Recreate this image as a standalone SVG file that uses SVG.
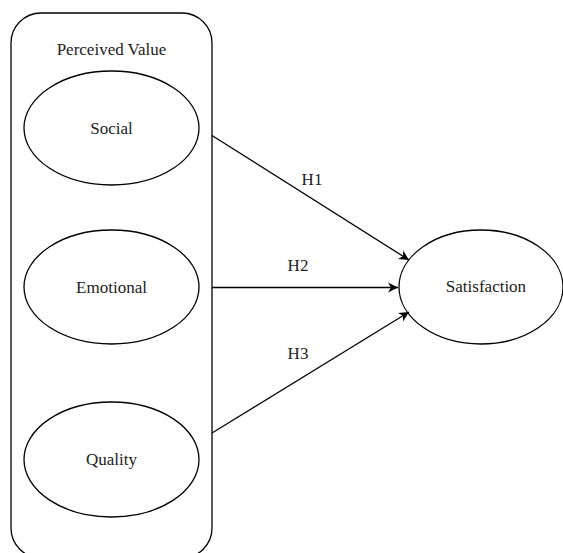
<svg xmlns="http://www.w3.org/2000/svg" width="563" height="553" viewBox="0 0 563 553">
<style>
.shape{fill:#fff;stroke:#000;stroke-width:1.3}
.lbl{font-family:"Liberation Serif","Times New Roman",serif;font-size:17px;fill:#222;text-anchor:middle;dominant-baseline:central}
.edge{stroke:#000;stroke-width:1.3;fill:none}
</style>
<defs>
<marker id="arr" markerWidth="12" markerHeight="12" refX="10" refY="5" orient="auto" markerUnits="userSpaceOnUse" viewBox="0 0 12 10">
<path d="M0,0 L10,5 L0,10 L3,5 Z" fill="#000"/>
</marker>
</defs>
<rect width="563" height="553" fill="#fff"/>
<g id="perceived-value">
<rect class="shape" x="11" y="13" width="201" height="545" rx="30" ry="30"/>
<text class="lbl" x="111.5" y="49">Perceived Value</text>
</g>
<g id="social">
<ellipse class="shape" cx="111.5" cy="128" rx="87.5" ry="57"/>
<text class="lbl" x="111.5" y="128">Social</text>
</g>
<g id="emotional">
<ellipse class="shape" cx="111.5" cy="287" rx="87.5" ry="57"/>
<text class="lbl" x="111.5" y="287">Emotional</text>
</g>
<g id="quality">
<ellipse class="shape" cx="111.5" cy="459.5" rx="87.5" ry="57.5"/>
<text class="lbl" x="111.5" y="459.5">Quality</text>
</g>
<g id="satisfaction">
<ellipse class="shape" cx="481" cy="287" rx="82" ry="57"/>
<text class="lbl" x="486" y="286">Satisfaction</text>
</g>
<g id="connectors">
<line class="edge" x1="212" y1="135.5" x2="409" y2="260" marker-end="url(#arr)"/>
<line class="edge" x1="212" y1="287.5" x2="398" y2="287.5" marker-end="url(#arr)"/>
<line class="edge" x1="212" y1="433" x2="409" y2="312" marker-end="url(#arr)"/>
<text class="lbl" x="312" y="179">H1</text>
<text class="lbl" x="298" y="265">H2</text>
<text class="lbl" x="298" y="353">H3</text>
</g>
</svg>
